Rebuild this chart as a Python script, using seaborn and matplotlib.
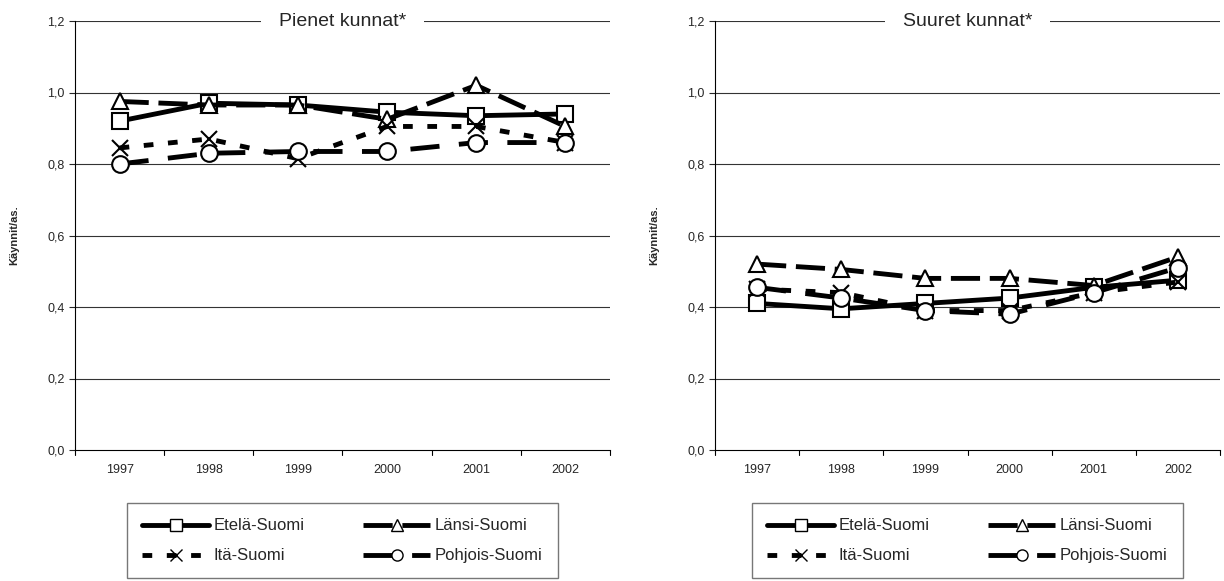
import pandas as pd
import seaborn as sns
import matplotlib.pyplot as plt
from matplotlib.lines import Line2D

years = [1997, 1998, 1999, 2000, 2001, 2002]
regions = ['Etelä-Suomi', 'Länsi-Suomi', 'Itä-Suomi', 'Pohjois-Suomi']

# Pienet kunnat
small_etela = [0.92, 0.97, 0.965, 0.945, 0.935, 0.94]
small_lansi = [0.975, 0.965, 0.965, 0.925, 1.02, 0.905]
small_ita = [0.845, 0.87, 0.815, 0.905, 0.905, 0.86]
small_pohjois = [0.80, 0.83, 0.835, 0.835, 0.86, 0.86]

# Suuret kunnat
big_etela = [0.41, 0.395, 0.41, 0.425, 0.455, 0.475]
big_lansi = [0.52, 0.505, 0.48, 0.48, 0.46, 0.54]
big_ita = [0.45, 0.44, 0.39, 0.39, 0.44, 0.47]
big_pohjois = [0.455, 0.425, 0.39, 0.38, 0.44, 0.51]

styles = {
    'Etelä-Suomi': dict(marker='s', dashes=(None, None)),
    'Länsi-Suomi': dict(marker='^', dashes=(6, 2)),
    'Itä-Suomi': dict(marker='x', dashes=(2, 3)),
    'Pohjois-Suomi': dict(marker='o', dashes=(6, 4)),
}

sns.set_style('white')
plt.rcParams['font.family'] = ['Liberation Sans', 'DejaVu Sans']

fig = plt.figure(figsize=(12.24, 5.81), dpi=100)
ax1 = fig.add_axes([75 / 1224, 131 / 581, 535 / 1224, 429 / 581])
ax2 = fig.add_axes([715 / 1224, 131 / 581, 505 / 1224, 429 / 581])


def draw(ax, series, title, legx):
    df = pd.DataFrame({'year': years * 4,
                       'value': sum(series, []),
                       'region': [r for r in regions for _ in years]})
    for r in regions:
        st = styles[r]
        d = df[df['region'] == r]
        x = list(range(len(years)))
        line, = ax.plot(x, d['value'], color='black', lw=3.5,
                        marker=st['marker'], markersize=12 if st['marker'] != 'x' else 11,
                        markerfacecolor='white', markeredgecolor='black',
                        markeredgewidth=1.5)
        if st['dashes'][0] is not None:
            line.set_dashes(st['dashes'])
    ax.set_ylim(0, 1.2)
    ax.set_xlim(-0.5, 5.5)
    ticks = [0, 0.2, 0.4, 0.6, 0.8, 1.0, 1.2]
    ax.set_yticks(ticks)
    ax.set_yticklabels([f'{v:.1f}'.replace('.', ',') for v in ticks], fontsize=9)
    ax.set_xticks(range(len(years)))
    ax.set_xticklabels([str(y) for y in years], fontsize=9)
    ax.tick_params(axis='y', length=4, left=True, direction='out')
    ax.tick_params(axis='x', length=0, pad=10)
    for yv in ticks[1:]:
        ax.axhline(yv, color='#333333', lw=0.8, zorder=0)
    for xv in [-0.5 + i for i in range(7)]:
        ax.plot([xv, xv], [0, -0.015], color='black', lw=0.8, clip_on=False)
    for s in ['top', 'right']:
        ax.spines[s].set_visible(False)
    ax.spines['left'].set_color('black')
    ax.spines['bottom'].set_color('black')
    ax.set_ylabel('Käynnit/as.', fontsize=8, fontweight='bold', labelpad=20)
    ax.text(0.5, 1.0, title, transform=ax.transAxes, ha='center', va='center',
            fontsize=14, bbox=dict(facecolor='white', edgecolor='none',
                                   boxstyle='square,pad=0.9'))
    handles = {}
    for r in regions:
        st = styles[r]
        h = Line2D([0], [0], color='black', lw=3.5, marker=st['marker'], markersize=8,
                   markerfacecolor='white', markeredgecolor='black')
        if st['dashes'][0] is not None:
            h.set_dashes(st['dashes'])
        handles[r] = h
    order = ['Etelä-Suomi', 'Itä-Suomi', 'Länsi-Suomi', 'Pohjois-Suomi']
    leg = ax.legend([handles[r] for r in order], order, loc='upper center',
                    bbox_to_anchor=(legx, -0.105), ncol=2, frameon=True, fancybox=False,
                    edgecolor='#555555', fontsize=12, handlelength=4,
                    columnspacing=3.5, borderpad=0.9, labelspacing=0.9, handletextpad=0.3)
    leg.get_frame().set_linewidth(1)


draw(ax1, [small_etela, small_lansi, small_ita, small_pohjois], 'Pienet kunnat*', 0.5)
draw(ax2, [big_etela, big_lansi, big_ita, big_pohjois], 'Suuret kunnat*', 0.5)

fig.savefig('out.png', dpi=100)
